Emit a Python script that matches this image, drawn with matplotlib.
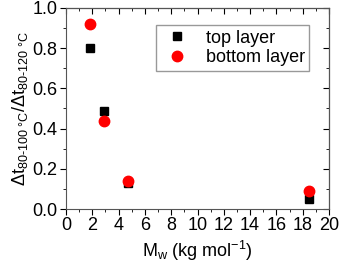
import matplotlib
matplotlib.use("Agg")
import matplotlib.pyplot as plt
from matplotlib.ticker import MultipleLocator

plt.rcParams['font.family'] = ['Liberation Sans', 'DejaVu Sans']
plt.rcParams['mathtext.fontset'] = 'custom'
plt.rcParams['mathtext.rm'] = 'Liberation Sans'
plt.rcParams['mathtext.it'] = 'Liberation Sans'

# data
mw = [1.85, 2.9, 4.75, 18.5]
top_layer = [0.80, 0.49, 0.13, 0.05]
bottom_layer = [0.92, 0.44, 0.14, 0.09]

fig = plt.figure(figsize=(3.4, 2.67), dpi=100)
ax = fig.add_axes([66/340, 1 - 209/267, (329 - 66)/340, (209 - 8)/267])

ax.plot(mw, top_layer, 's', color='black', ms=6, label='top layer')
ax.plot(mw, bottom_layer, 'o', color='red', ms=7.5, label='bottom layer')

ax.set_xlim(0, 20)
ax.set_ylim(0, 1.0)
ax.xaxis.set_major_locator(MultipleLocator(2))
ax.xaxis.set_minor_locator(MultipleLocator(1))
ax.yaxis.set_major_locator(MultipleLocator(0.2))
ax.yaxis.set_minor_locator(MultipleLocator(0.1))
ax.yaxis.set_major_formatter(plt.FormatStrFormatter('%.1f'))

ax.tick_params(which='both', direction='out', top=False, right=False, labelsize=13, pad=2)
ax.tick_params(which='major', length=4)
ax.tick_params(which='minor', length=2)
ax2 = ax.secondary_xaxis('top')
ax2.set_xticks(range(0, 21, 2))
ax2.xaxis.set_minor_locator(MultipleLocator(1))
ax2.tick_params(which='both', direction='in', labeltop=False)
ax2.tick_params(which='major', length=4)
ax2.tick_params(which='minor', length=2)
ay2 = ax.secondary_yaxis('right')
ay2.set_yticks([0, 0.2, 0.4, 0.6, 0.8, 1.0])
ay2.yaxis.set_minor_locator(MultipleLocator(0.1))
ay2.tick_params(which='both', direction='in', labelright=False)
ay2.tick_params(which='major', length=4)
ay2.tick_params(which='minor', length=2)

for s in ax.spines.values():
    s.set_color('#555555')

ax.set_xlabel(r'M$_\mathrm{w}$ (kg mol$^\mathrm{-1}$)', fontsize=13, labelpad=3)
ax.set_ylabel(r'$\Delta$t$_\mathrm{80\text{-}100\ °C}$/$\Delta$t$_\mathrm{80\text{-}120\ °C}$',
              fontsize=13, labelpad=2)

ax.legend(loc='upper left', bbox_to_anchor=(0.342, 0.915), fontsize=13,
          fancybox=False, framealpha=1, edgecolor='#999999', handletextpad=0.7,
          borderpad=0.25, labelspacing=0.15, handlelength=1.8, borderaxespad=0)

fig.savefig('out.png', dpi=100)
